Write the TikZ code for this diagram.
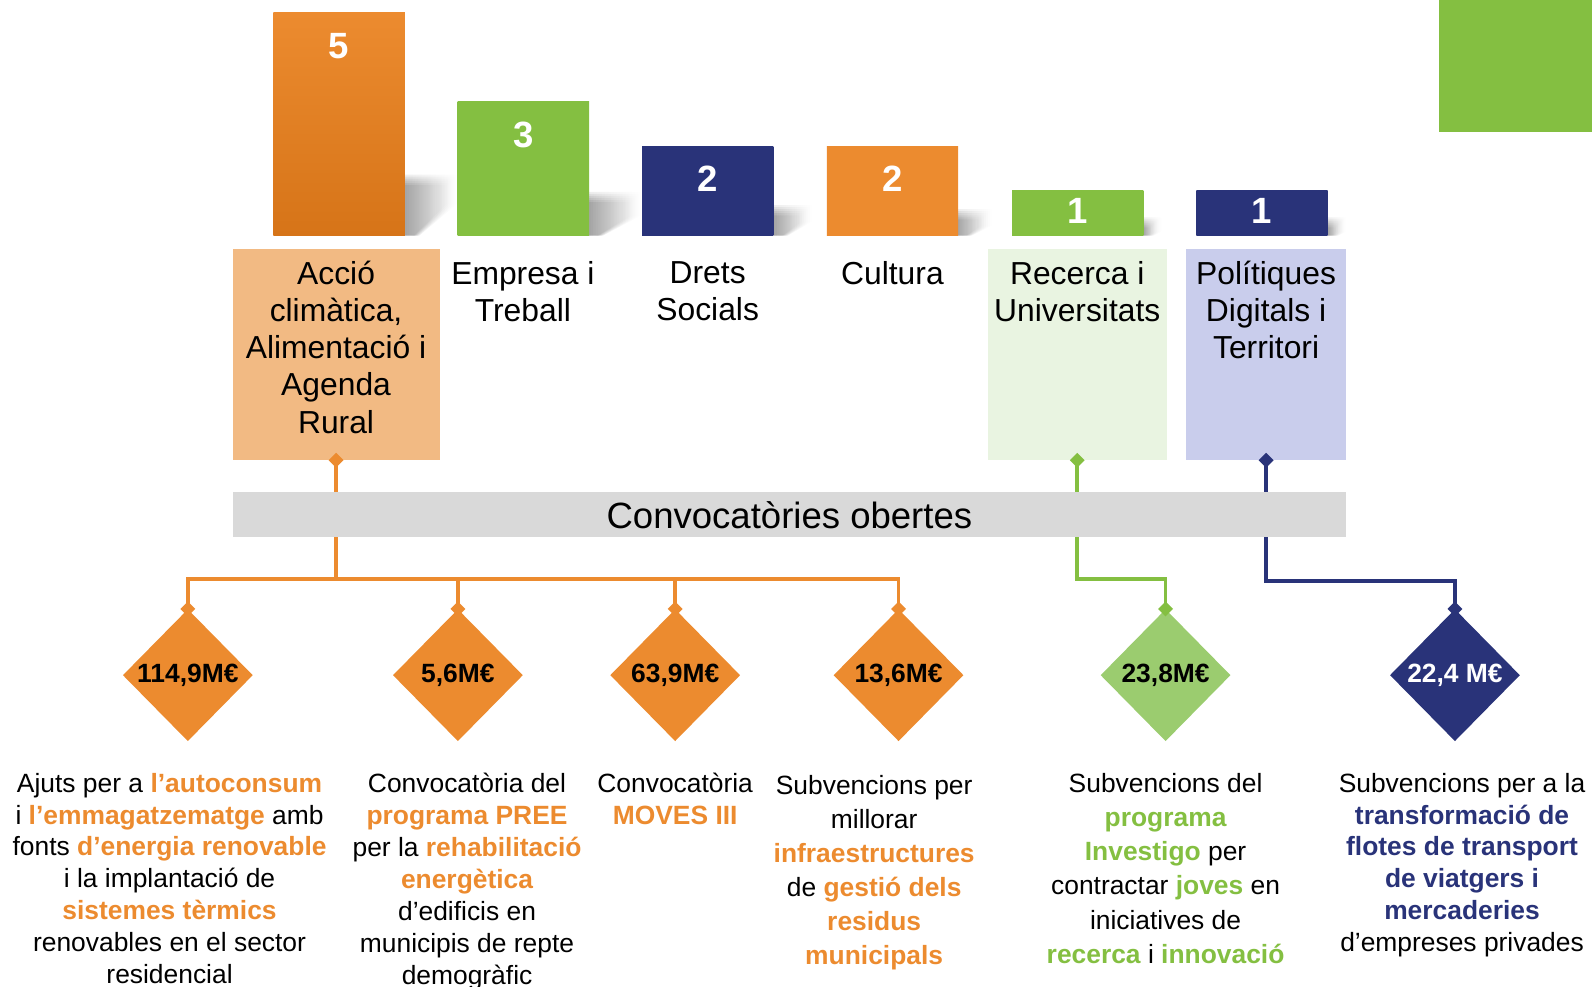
\documentclass[tikz,border=0pt]{standalone}
\usepackage{fontspec}
\setmainfont{Liberation Sans}
\usetikzlibrary{shapes.geometric,arrows.meta,fadings,positioning}

\definecolor{orgA}{RGB}{236,139,47}
\definecolor{orgB}{RGB}{214,116,24}
\definecolor{orgL}{RGB}{242,186,131}
\definecolor{grnA}{RGB}{132,191,65}
\definecolor{grnB}{RGB}{155,204,111}
\definecolor{grnL}{RGB}{233,244,225}
\definecolor{navA}{RGB}{41,51,121}
\definecolor{navL}{RGB}{201,205,236}
\definecolor{barG}{RGB}{217,217,217}

\newcommand{\ora}[1]{\textbf{\color{orgA}#1}}
\newcommand{\grn}[1]{\textbf{\color{grnA}#1}}
\newcommand{\nav}[1]{\textbf{\color{navA}#1}}

\tikzset{
    bar/.style={rectangle, inner sep=0pt, minimum width=97pt, anchor=south},
    num/.style={text=white, inner sep=0pt, font=\fontsize{27}{30}\selectfont\bfseries},
    dept/.style={align=center, anchor=north, inner sep=0pt, font=\fontsize{23.5}{27.4}\selectfont},
    deptbox/.style={rectangle, inner sep=0pt, minimum height=156pt},
    amount/.style={diamond, inner sep=0pt, minimum width=96pt, minimum height=97.5pt,
        font=\fontsize{19.5}{22}\selectfont\bfseries},
    call/.style={align=center, anchor=north, inner sep=0pt, font=\fontsize{19.5}{23.6}\selectfont},
    link/.style={line width=2.8pt, draw=#1, >={Diamond[length=11pt,width=11pt]}},
    castshade/.style={fill=black, fill opacity=0.07, path fading=east},
}

\begin{document}
\begin{tikzpicture}[x=0.75pt,y=-0.75pt]
    \useasboundingbox (0,0) rectangle (1568,972);

    % corner square
    \fill[grnA] (1417,0) rectangle (1568,130);

    % soft shadows behind the bars
    \foreach \r/\t/\w/\m/\k in {399/172/52/200/14, 580/189/52/212/14, 762/202/38/218/14,
                                943/206/34/222/14, 1126/214/18/228/10, 1308/214/18/228/10}
        \foreach \s in {0,...,5}
            \fill[castshade] (\r,232) -- (\r,\t+2*\s) -- (\r+\w-2*\s,\t+2*\s)
                -- (\r+\w-2*\s,\m) -- (\r+\k-\s,232) -- cycle;

    % bars with counts
    \foreach \x/\h/\ct/\cb/\n/\dy [count=\i] in {334/164.25/orgA/orgB/5/24.75,
            515.5/99/grnA/grnA/3/24.75, 697/65.25/navA/navA/2/24,
            879/65.25/orgA/orgA/2/24, 1061.5/33/grnA/grnA/1/15, 1243/33/navA/navA/1/15} {
        \node[bar, minimum height=\h pt, top color=\ct, bottom color=\cb] (b\i) at (\x,232) {};
        \node[num] (n\i) at ([yshift=-\dy pt]b\i.north) {\n};
    }

    % departments
    \node[deptbox, fill=orgL, minimum width=153pt] (lb1) at (331,349) {};
    \node[deptbox, fill=grnL, minimum width=132pt] (lb5) at (1061,349) {};
    \node[deptbox, fill=navL, minimum width=118.5pt] (lb6) at (1247,349) {};

    \node[dept] (t1) at (331,257) {Acció\\climàtica,\\Alimentació i\\Agenda\\Rural};
    \node[dept] (t2) at (515,257) {Empresa i\\Treball};
    \node[dept] (t3) at (697,257) {Drets\\Socials};
    \node[dept] (t4) at (879,257) {Cultura};
    \node[dept] (t5) at (1061,257) {Recerca i\\Universitats};
    \node[dept] (t6) at (1247,257) {Polítiques\\Digitals i\\Territori};

    % amounts
    \node[amount, fill=orgA] (d1) at (185,665) {114,9M€};
    \node[amount, fill=orgA] (d2) at (451,665) {5,6M€};
    \node[amount, fill=orgA] (d3) at (665,665) {63,9M€};
    \node[amount, fill=orgA] (d4) at (885,665) {13,6M€};
    \node[amount, fill=grnB] (d5) at (1148,665) {23,8M€};
    \node[amount, fill=navA, text=white] (d6) at (1433,665) {22,4 M€};

    % connectors
    \coordinate (ohub) at (331,570);
    \draw[link=orgA, <->, shorten <=-5.5pt, shorten >=-5.5pt] (lb1.south) -- (ohub) -| (d1.north);
    \foreach \d in {d2,d3,d4}
        \draw[link=orgA, ->, shorten >=-5.5pt] (ohub) -| (\d.north);
    \draw[link=grnA, <->, shorten <=-5.5pt, shorten >=-5.5pt] (lb5.south) -- ++(0,117) -| (d5.north);
    \draw[link=navA, <->, shorten <=-5.5pt, shorten >=-5.5pt] (lb6.south) -- ++(0,119) -| (d6.north);

    \node[fill=barG, inner sep=0pt, minimum width=822.75pt, minimum height=33pt,
        font=\fontsize{27}{30}\selectfont] (open) at (777.5,507) {Convocatòries obertes};

    % calls
    \node[call] (c1) at (167,761) {Ajuts per a \ora{l’autoconsum}\\i \ora{l’emmagatzematge} amb\\fonts \ora{d’energia renovable}\\i la implantació de\\\ora{sistemes tèrmics}\\renovables en el sector\\residencial};
    \node[call] (c2) at (460,761) {Convocatòria del\\\ora{programa PREE}\\per la \ora{rehabilitació}\\\ora{energètica}\\d’edificis en\\municipis de repte\\demogràfic};
    \node[call] (c3) at (665,761) {Convocatòria\\\ora{MOVES III}};
    \node[call, font=\fontsize{19.5}{25.2}\selectfont] (c4) at (861,763) {Subvencions per\\millorar\\\ora{infraestructures}\\de \ora{gestió dels}\\\ora{residus}\\\ora{municipals}};
    \node[call, font=\fontsize{19.5}{25.3}\selectfont] (c5) at (1148,761) {Subvencions del\\\grn{programa}\\\grn{Investigo} per\\contractar \grn{joves} en\\iniciatives de\\\grn{recerca} i \grn{innovació}};
    \node[call] (c6) at (1440,761) {Subvencions per a la\\\nav{transformació de}\\\nav{flotes de transport}\\\nav{de viatgers i}\\\nav{mercaderies}\\d’empreses privades};
\end{tikzpicture}
\end{document}
